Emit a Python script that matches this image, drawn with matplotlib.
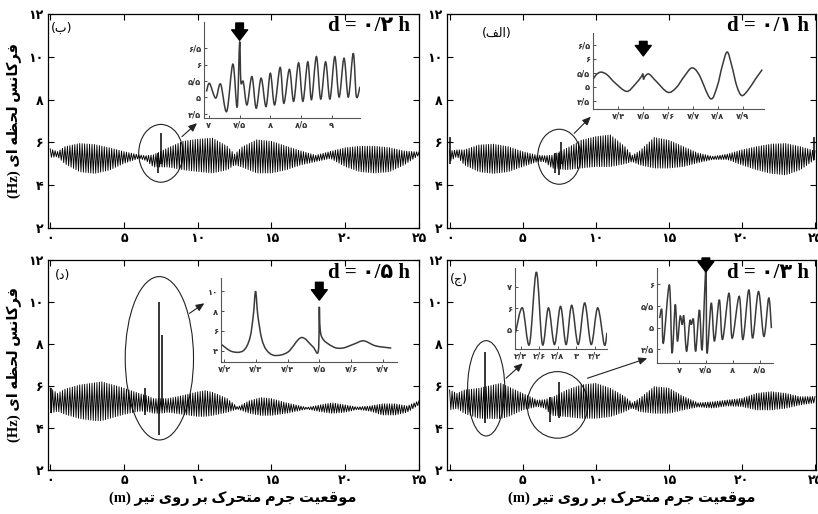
import numpy as np
import matplotlib.pyplot as plt
from matplotlib.patches import Ellipse, PathPatch
from matplotlib.path import Path

W, H = 818, 514

# ---------------- data ----------------
# envelope knots (x in m) and upper / lower envelope (Hz) of the dense oscillation
env_x_b = [0, 0.5, 1, 2, 3, 4, 5, 6, 6.5, 7, 8, 9, 10, 11, 12, 12.5, 13, 14, 15, 16, 17, 18, 19, 20, 21, 22, 23, 24, 25]
env_hi_b = [5.7, 5.57, 5.8, 5.95, 5.9, 5.75, 5.57, 5.42, 5.38, 5.42, 5.75, 6.05, 6.15, 6.2, 5.82, 5.45, 5.78, 6.12, 6.05, 5.82, 5.6, 5.4, 5.58, 5.75, 5.82, 5.82, 5.75, 5.6, 5.55]
env_lo_b = [5.3, 5.33, 5.0, 4.63, 4.55, 4.7, 5.02, 5.25, 5.15, 4.85, 4.85, 4.72, 4.64, 4.57, 4.72, 4.95, 4.85, 4.57, 4.57, 4.72, 4.95, 5.1, 5.25, 4.87, 4.63, 4.57, 4.63, 4.95, 5.4]

env_x_a = [0, 0.5, 1, 2, 3, 4, 5, 6, 6.5, 7, 8, 9, 10, 11, 12, 12.5, 13, 14, 15, 16, 17, 18, 19, 20, 21, 22, 23, 24, 25]
env_hi_a = [5.6, 5.65, 5.65, 5.88, 5.92, 5.8, 5.57, 5.4, 5.38, 5.4, 5.72, 6.1, 6.27, 6.35, 5.8, 5.4, 5.6, 6.23, 6.1, 5.8, 5.5, 5.35, 5.45, 5.65, 5.8, 5.92, 5.95, 5.8, 5.6]
env_lo_a = [5.1, 5.35, 4.95, 4.63, 4.55, 4.63, 4.87, 5.1, 5.1, 4.8, 4.72, 4.8, 4.87, 4.87, 5.0, 5.1, 4.95, 4.8, 4.8, 4.87, 5.05, 5.2, 5.2, 4.95, 4.72, 4.55, 4.48, 4.72, 5.2]

env_x_d = [0, 0.5, 1, 2, 3, 3.5, 4, 5, 6, 6.5, 7, 7.5, 8, 9, 10, 10.5, 11, 12, 12.7, 13.5, 14.3, 15, 16, 17.4, 18.3, 19.1, 20, 20.8, 21.7, 22.5, 23.4, 24.2, 25]
env_hi_d = [5.9, 5.65, 5.85, 6.05, 6.15, 6.2, 6.1, 5.9, 5.65, 5.55, 5.4, 5.4, 5.4, 5.55, 5.72, 5.78, 5.7, 5.4, 5.0, 5.3, 5.45, 5.4, 5.2, 4.98, 5.1, 5.2, 5.1, 5.0, 5.05, 5.15, 5.15, 5.05, 5.3]
env_lo_d = [4.7, 4.8, 4.65, 4.45, 4.35, 4.35, 4.45, 4.65, 4.8, 4.8, 4.7, 4.7, 4.75, 4.65, 4.55, 4.55, 4.6, 4.75, 4.9, 4.7, 4.6, 4.6, 4.7, 4.9, 4.78, 4.7, 4.75, 4.88, 4.8, 4.62, 4.62, 4.75, 5.1]

env_x_j = [0, 0.5, 1, 2, 3, 3.5, 4, 5, 6, 6.5, 7, 8, 9, 10, 11, 12, 12.5, 13, 14, 15, 16, 17, 18, 19, 20, 21, 22, 23, 24, 25]
env_hi_j = [5.81, 5.65, 5.81, 5.89, 6.05, 6.13, 5.97, 5.65, 5.33, 5.35, 5.45, 5.8, 6.05, 6.13, 5.89, 5.49, 5.2, 5.41, 5.97, 5.9, 5.5, 5.2, 5.25, 5.33, 5.41, 5.65, 5.73, 5.65, 5.49, 5.5]
env_lo_j = [4.86, 4.94, 4.7, 4.46, 4.45, 4.45, 4.54, 4.86, 5.02, 4.95, 4.6, 4.54, 4.46, 4.46, 4.54, 4.78, 4.95, 4.78, 4.7, 4.7, 4.86, 5.0, 4.95, 5.05, 5.02, 4.86, 4.86, 4.94, 5.1, 5.2]

cycles_per_m = 6.0

# isolated spikes: position, bottom, top
spike_x_b = [7.3, 7.5]
spike_lo_b = [4.55, 5.0]
spike_hi_b = [5.5, 6.42]
spike_x_a = [0.05, 7.2, 7.45, 7.6, 24.95]
spike_lo_a = [5.0, 4.55, 4.48, 5.0, 5.2]
spike_hi_a = [6.27, 5.5, 5.5, 6.03, 6.27]
spike_x_d = [0.05, 6.4, 7.35, 7.55]
spike_lo_d = [4.7, 4.6, 3.67, 5.0]
spike_hi_d = [5.9, 5.9, 10.0, 8.43]
spike_x_j = [2.4, 6.85, 7.5]
spike_lo_j = [4.22, 4.3, 4.5]
spike_hi_j = [7.63, 5.5, 6.2]

# inset curves
ins_x_b = [6.96, 7.01, 7.11, 7.19, 7.29, 7.39, 7.46, 7.5, 7.52, 7.56, 7.62, 7.70, 7.77, 7.85, 7.93, 8.0, 8.07,
           8.16, 8.22, 8.31, 8.38, 8.46, 8.53, 8.61, 8.67, 8.75, 8.82, 8.9, 8.97, 9.05, 9.12, 9.2, 9.27, 9.35, 9.4, 9.46]
ins_y_b = [5.18, 5.43, 4.98, 5.41, 4.57, 6.02, 4.70, 6.70, 5.48, 5.48, 4.77, 5.64, 4.67, 5.59, 4.72, 5.74, 4.77,
           5.92, 4.82, 5.86, 4.88, 6.06, 4.88, 6.09, 4.93, 6.25, 4.95, 6.09, 4.95, 6.25, 5.01, 6.2, 5.01, 6.35, 5.03, 5.33]

ins_x_a = [7.298, 7.311, 7.33, 7.354, 7.387, 7.433, 7.466, 7.493, 7.498, 7.501, 7.507, 7.523, 7.552, 7.598, 7.631,
           7.665, 7.695, 7.724, 7.77, 7.797, 7.817, 7.837, 7.856, 7.876, 7.896, 7.922, 7.949, 7.978]
ins_y_a = [5.25, 5.43, 5.52, 5.43, 5.13, 4.83, 5.07, 5.37, 5.46, 5.27, 5.37, 5.45, 5.19, 4.80, 4.95,
           5.37, 5.67, 5.43, 4.57, 5.01, 5.73, 6.24, 5.73, 5.01, 4.68, 4.89, 5.25, 5.61]

ins_x_d = [7.19, 7.224, 7.26, 7.281, 7.292, 7.299, 7.306, 7.318, 7.333, 7.359, 7.401, 7.443, 7.479, 7.497, 7.5,
           7.506, 7.542, 7.573, 7.609, 7.64, 7.677, 7.727]
ins_y_d = [4.67, 3.93, 4.0, 5.27, 7.6, 10.0, 7.6, 5.27, 4.1, 3.53, 3.87, 5.33, 4.43, 4.0, 8.43,
           5.53, 4.43, 4.27, 4.67, 5.0, 4.5, 4.27]

ins_x_j1 = [2.345, 2.42, 2.495, 2.57, 2.635, 2.70, 2.765, 2.83, 2.89, 2.95, 3.02, 3.09, 3.16, 3.23, 3.3, 3.33]
ins_y_j1 = [4.85, 6.02, 4.3, 7.7, 4.3, 6.02, 4.3, 6.09, 4.3, 6.14, 4.3, 6.25, 4.3, 6.02, 4.3, 4.85]

ins_x_j2 = [6.64, 6.68, 6.71, 6.82, 6.87, 6.93, 6.97, 7.02, 7.06, 7.09, 7.14, 7.2, 7.23, 7.27, 7.31, 7.38, 7.43,
            7.5, 7.52, 7.6, 7.66, 7.75, 7.81, 7.93, 7.99, 8.12, 8.19, 8.3, 8.37, 8.48, 8.58, 8.67, 8.72]
ins_y_j2 = [5.22, 5.41, 4.65, 5.98, 4.42, 5.53, 4.69, 5.26, 5.07, 5.26, 4.46, 5.15, 5.07, 5.18, 4.46, 5.41, 4.5,
            6.33, 4.42, 5.56, 4.69, 5.64, 4.73, 5.79, 4.76, 5.72, 4.73, 5.87, 4.76, 5.83, 4.8, 5.68, 4.99]

main_xticks = [0, 5, 10, 15, 20, 25]
main_yticks = [2, 4, 6, 8, 10, 12]

# ---------------- Persian text helpers ----------------
FORMS = {
    '\u0627': ('\uFE8D', '\uFE8E', None, None),
    '\u0628': ('\uFE8F', '\uFE90', '\uFE91', '\uFE92'),
    '\u062A': ('\uFE95', '\uFE96', '\uFE97', '\uFE98'),
    '\u062C': ('\uFE9D', '\uFE9E', '\uFE9F', '\uFEA0'),
    '\u062D': ('\uFEA1', '\uFEA2', '\uFEA3', '\uFEA4'),
    '\u062F': ('\uFEA9', '\uFEAA', None, None),
    '\u0631': ('\uFEAD', '\uFEAE', None, None),
    '\u0633': ('\uFEB1', '\uFEB2', '\uFEB3', '\uFEB4'),
    '\u0638': ('\uFEC5', '\uFEC6', '\uFEC7', '\uFEC8'),
    '\u0639': ('\uFEC9', '\uFECA', '\uFECB', '\uFECC'),
    '\u0641': ('\uFED1', '\uFED2', '\uFED3', '\uFED4'),
    '\u0642': ('\uFED5', '\uFED6', '\uFED7', '\uFED8'),
    '\u0644': ('\uFEDD', '\uFEDE', '\uFEDF', '\uFEE0'),
    '\u0645': ('\uFEE1', '\uFEE2', '\uFEE3', '\uFEE4'),
    '\u0646': ('\uFEE5', '\uFEE6', '\uFEE7', '\uFEE8'),
    '\u0647': ('\uFEE9', '\uFEEA', '\uFEEB', '\uFEEC'),
    '\u0648': ('\uFEED', '\uFEEE', None, None),
    '\u06A9': ('\uFB8E', '\uFB8F', '\uFB90', '\uFB91'),
    '\u06CC': ('\uFEEF', '\uFEF0', '\uFEF3', '\uFEF4'),
}


def shape(text):
    """join letters and return them in visual (left to right) order"""
    text = text.replace('\u064A', '\u06CC').replace('\u0643', '\u06A9')
    out = []
    for i, c in enumerate(text):
        if c not in FORMS:
            out.append(c)
            continue
        prev = text[i - 1] if i > 0 else ''
        nxt = text[i + 1] if i + 1 < len(text) else ''
        jp = prev in FORMS and FORMS[prev][2] is not None
        jn = FORMS[c][2] is not None and nxt in FORMS
        iso, fin, ini, med = FORMS[c]
        out.append(med if (jp and jn) else fin if jp else ini if jn else iso)
    return ''.join(out)[::-1]


DIGITS = str.maketrans('0123456789.', '۰۱۲۳۴۵۶۷۸۹/')


def fa_num(v):
    return ('%g' % v).translate(DIGITS)


def fx(px):
    return px / W


def fy(py):
    return 1 - py / H


def rect(l, t, r, b):
    return [l / W, 1 - b / H, (r - l) / W, (b - t) / H]


def carrier(ex, ehi, elo):
    n = int(25 * cycles_per_m * 2)
    xs = np.linspace(0, 25, n + 1)
    hi = np.interp(xs, ex, ehi)
    lo = np.interp(xs, ex, elo)
    ys = np.where(np.arange(n + 1) % 2 == 0, hi, lo)
    return xs, ys


def smooth(ax, xs, ys, color='#3a3a3a', lw=1.1):
    pts = np.column_stack([xs, ys]).astype(float)
    verts = [pts[0]]
    codes = [Path.MOVETO]
    for i in range(len(pts) - 1):
        p0 = pts[i - 1] if i > 0 else pts[i]
        p1 = pts[i]
        p2 = pts[i + 1]
        p3 = pts[i + 2] if i + 2 < len(pts) else p2
        verts += [p1 + (p2 - p0) / 6, p2 - (p3 - p1) / 6, p2]
        codes += [Path.CURVE4] * 3
    ax.add_patch(PathPatch(Path(verts, codes), fill=False, ec=color, lw=lw))


TICKFONT = dict(family='DejaVu Sans', weight='bold', size=9)
SERIF = ['Liberation Serif', 'DejaVu Sans']
fig = plt.figure(figsize=(W / 100, H / 100), dpi=100)


def main_axes(r, xlim, ex, ehi, elo, sx, slo, shi):
    ax = fig.add_axes(r)
    xs, ys = carrier(ex, ehi, elo)
    ax.plot(xs, ys, color='k', lw=0.65)
    ax.vlines(sx, slo, shi, color='k', lw=1.1)
    ax.set_xlim(*xlim)
    ax.set_ylim(2, 12)
    ax.set_xticks(main_xticks)
    ax.set_yticks(main_yticks)
    ax.set_xticklabels([fa_num(v) for v in main_xticks], fontdict=TICKFONT)
    ax.set_yticklabels([fa_num(v) for v in main_yticks], fontdict=TICKFONT)
    ax.tick_params(direction='in', top=True, right=True, length=4, width=0.8, pad=3)
    for s in ax.spines.values():
        s.set_linewidth(0.9)
    return ax


def inset(r, xlim, ylim, xt, yt, xs, ys, arrow=None):
    ax = fig.add_axes(r)
    ax.set_facecolor('none')
    smooth(ax, xs, ys)
    ax.set_xlim(*xlim)
    ax.set_ylim(*ylim)
    ax.set_xticks(xt)
    ax.set_yticks(yt)
    f = dict(family='DejaVu Sans', weight='bold', size=6, color='#333333')
    ax.set_xticklabels([fa_num(v) for v in xt], fontdict=f)
    ax.set_yticklabels([fa_num(v) for v in yt], fontdict=f)
    ax.tick_params(direction='in', length=2, width=0.6, pad=2, colors='#333333')
    ax.spines['top'].set_visible(False)
    ax.spines['right'].set_visible(False)
    for s in ('left', 'bottom'):
        ax.spines[s].set_color('#555555')
        ax.spines[s].set_linewidth(0.8)
    if arrow is not None:
        ax_x, tail, tip = arrow
        ax.annotate('', xy=(ax_x, tip), xytext=(ax_x, tail),
                    arrowprops=dict(arrowstyle='simple,head_length=0.75,head_width=1.15,tail_width=0.55',
                                    fc='k', ec='k', mutation_scale=10, shrinkA=0, shrinkB=0),
                    annotation_clip=False)
    return ax


def pointer(ax, a, b):
    ax.annotate('', xy=b, xytext=a,
                arrowprops=dict(arrowstyle='-|>,head_length=0.5,head_width=0.22', color='#222222',
                                lw=0.8, mutation_scale=10, shrinkA=0, shrinkB=0))


# ---------------- main panels ----------------
ax_b = main_axes(rect(48, 14, 419, 228), (-0.15, 25), env_x_b, env_hi_b, env_lo_b, spike_x_b, spike_lo_b, spike_hi_b)
ax_a = main_axes(rect(447, 14, 816, 228), (-0.18, 25.07), env_x_a, env_hi_a, env_lo_a, spike_x_a, spike_lo_a, spike_hi_a)
ax_d = main_axes(rect(48, 260, 419, 470), (-0.15, 25), env_x_d, env_hi_d, env_lo_d, spike_x_d, spike_lo_d, spike_hi_d)
ax_j = main_axes(rect(447, 260, 816, 470), (-0.18, 25.07), env_x_j, env_hi_j, env_lo_j, spike_x_j, spike_lo_j, spike_hi_j)

ell = dict(fill=False, ec='#222222', lw=0.8)
ax_b.add_patch(Ellipse((7.5, 5.49), 3.0, 2.7, **ell))
ax_a.add_patch(Ellipse((7.5, 5.33), 2.95, 2.57, **ell))
ax_d.add_patch(Ellipse((7.4, 7.32), 4.63, 7.78, **ell))
ax_j.add_patch(Ellipse((2.5, 5.89), 2.54, 4.54, **ell))
ax_j.add_patch(Ellipse((7.38, 5.1), 4.15, 3.17, **ell))

pointer(ax_b, (8.93, 6.27), (9.95, 6.9))
pointer(ax_a, (8.52, 6.42), (9.66, 7.2))
pointer(ax_d, (9.44, 9.46), (10.45, 9.94))
pointer(ax_j, (3.86, 6.37), (5.0, 7.08))
pointer(ax_j, (9.43, 6.37), (13.52, 7.32))

# ---------------- insets ----------------
inset(rect(204, 22, 360, 118), (6.92, 9.46), (4.37, 7.31), [7, 7.5, 8, 8.5, 9], [4.5, 5, 5.5, 6, 6.5],
      ins_x_b, ins_y_b, arrow=(7.5, 7.28, 6.75))
inset(rect(593, 33, 764, 109), (7.298, 7.985), (4.2, 6.92), [7.4, 7.5, 7.6, 7.7, 7.8, 7.9], [4.5, 5, 5.5, 6, 6.5],
      ins_x_a, ins_y_a, arrow=(7.5, 6.62, 6.1))
inset(rect(221, 278, 397, 362), (7.19, 7.745), (2.87, 11.33), [7.2, 7.3, 7.4, 7.5, 7.6, 7.7], [4, 6, 8, 10],
      ins_x_d, ins_y_d, arrow=(7.5, 10.9, 9.1))
inset(rect(515, 268, 607, 349), (2.34, 3.33), (4.09, 7.89), [2.4, 2.6, 2.8, 3.0, 3.2], [5, 6, 7],
      ins_x_j1, ins_y_j1)
inset(rect(657, 268, 773, 363), (6.59, 8.75), (4.19, 6.37), [7, 7.5, 8, 8.5], [4.5, 5, 5.5, 6],
      ins_x_j2, ins_y_j2, arrow=(7.5, 6.6, 6.28))

# ---------------- texts ----------------
d_texts = [('d = ۰/۲ h', 410, 26), ('d = ۰/۱ h', 809, 26), ('d = ۰/۵ h', 410, 273), ('d = ۰/۳ h', 809, 273)]
for s, px, py in d_texts:
    fig.text(fx(px), fy(py), s, ha='right', va='center', fontsize=15, weight='bold', family=SERIF)

panel_tags = [('ب', 62, 28), ('الف', 497, 33), ('د', 63, 276), ('ج', 459, 279)]
for s, px, py in panel_tags:
    fig.text(fx(px), fy(py), '(' + shape(s) + ')', ha='center', va='center', fontsize=9, family='DejaVu Sans')

ylabel = '(Hz) ' + shape('فرکانس لحظه ای')
xlabel = '(m) ' + shape('موقعیت جرم متحرک بر روی تیر')
for py in (121, 365):
    fig.text(fx(14), fy(py), ylabel, rotation=90, ha='center', va='center', fontsize=10.5, weight='bold',
             family=SERIF)
for px in (233, 632):
    fig.text(fx(px), fy(499), xlabel, ha='center', va='center', fontsize=10.5, weight='bold', family=SERIF)

fig.savefig('out.png', dpi=100)
